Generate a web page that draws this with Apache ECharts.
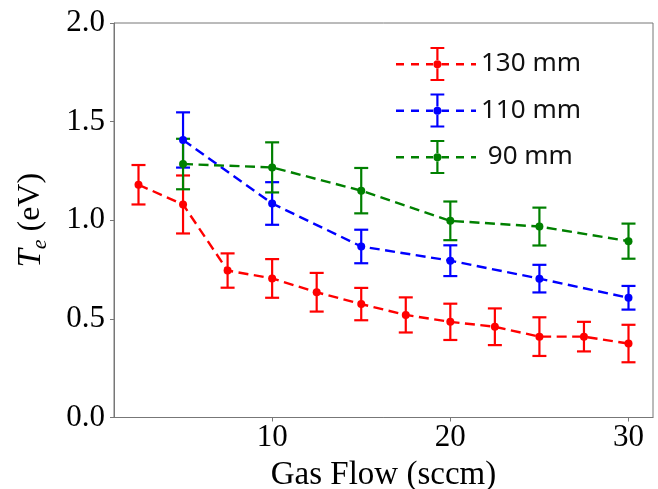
<!DOCTYPE html>
<html>
<head>
<meta charset="utf-8">
<script src="https://cdn.jsdelivr.net/npm/echarts@6/dist/echarts.min.js"></script>
<style>
  html, body { margin: 0; padding: 0; background: #fff; }
  #chart { width: 658px; height: 489px; }
</style>
</head>
<body>
<div id="chart"></div>
<script>
// Gas flow settings (sccm)
const flow130 = [2.5, 5, 7.5, 10, 12.5, 15, 17.5, 20, 22.5, 25, 27.5, 30];
const flow110 = [5, 10, 15, 20, 25, 30];
const flow90 = [5, 10, 15, 20, 25, 30];

// Electron temperature (eV) and its uncertainty at each probe distance
const te130 = [1.18, 1.08, 0.745, 0.705, 0.635, 0.575, 0.52, 0.485, 0.46, 0.41, 0.41, 0.375];
const err130 = [0.10, 0.147, 0.087, 0.098, 0.098, 0.082, 0.089, 0.092, 0.093, 0.098, 0.075, 0.095];
const te110 = [1.407, 1.085, 0.867, 0.795, 0.704, 0.607];
const err110 = [0.14, 0.108, 0.085, 0.078, 0.07, 0.06];
const te90 = [1.285, 1.268, 1.15, 0.997, 0.968, 0.894];
const err90 = [0.128, 0.127, 0.115, 0.098, 0.096, 0.089];

// Axis ticks
const xTicks = [10, 20, 30];
const yTicks = [0, 0.5, 1.0, 1.5, 2.0];

const seriesNames = ['130 mm', '110 mm', ' 90 mm'];
const seriesColors = ['#ff0000', '#0000ff', '#008000'];

// Legend handle: dashed line, error bar with caps, and a dot
const legendIcon = 'path://' +
  'M0 16H8V18.4H0Z M15 16H23V18.4H15Z M30 16H37V18.4H30Z ' +
  'M45.6 16H53V18.4H45.6Z M60 16H68V18.4H60Z M75 16H80V18.4H75Z ' +
  'M40.3 2H42.5V13H40.3Z M40.3 21H42.5V32H40.3Z ' +
  'M34.5 0H48.3V2H34.5Z M34.5 32H48.3V34H34.5Z ' +
  'M37.4 17.2A4 4 0 1 0 45.4 17.2A4 4 0 1 0 37.4 17.2Z';

const sets = [
  { x: flow130, y: te130, e: err130 },
  { x: flow110, y: te110, e: err110 },
  { x: flow90, y: te90, e: err90 }
];

const serifFont = '"Liberation Serif", "Times New Roman", serif';

function errorBarSeries(set, idx) {
  const data = set.x.map((x, i) => [x, set.y[i] - set.e[i], set.y[i] + set.e[i]]);
  return {
    type: 'custom',
    name: seriesNames[idx],
    z: 2 + idx,
    data: data,
    itemStyle: { color: seriesColors[idx] },
    encode: { x: 0, y: [1, 2] },
    renderItem: function (params, api) {
      const x = api.value(0);
      const lo = api.coord([x, api.value(1)]);
      const hi = api.coord([x, api.value(2)]);
      const half = 7;
      const style = { stroke: seriesColors[idx], lineWidth: 2.2 };
      return {
        type: 'group',
        children: [
          { type: 'line', shape: { x1: lo[0], y1: lo[1], x2: hi[0], y2: hi[1] }, style: style },
          { type: 'line', shape: { x1: lo[0] - half, y1: lo[1], x2: lo[0] + half, y2: lo[1] }, style: style },
          { type: 'line', shape: { x1: hi[0] - half, y1: hi[1], x2: hi[0] + half, y2: hi[1] }, style: style }
        ]
      };
    }
  };
}

function lineSeries(set, idx) {
  return {
    type: 'line',
    name: seriesNames[idx],
    z: 5 + idx,
    data: set.x.map((x, i) => [x, set.y[i]]),
    symbol: 'circle',
    symbolSize: 8,
    showSymbol: true,
    itemStyle: { color: seriesColors[idx] },
    lineStyle: { color: seriesColors[idx], width: 2.4, type: [10, 5.5] }
  };
}

const series = [];
sets.forEach((s, i) => { series.push(errorBarSeries(s, i)); });
sets.forEach((s, i) => { series.push(lineSeries(s, i)); });

const chart = echarts.init(document.getElementById('chart'), null, { renderer: 'canvas' });
chart.setOption({
  animation: false,
  backgroundColor: '#ffffff',
  grid: {
    left: 114, right: 5, top: 23, bottom: 71.5,
    outerBoundsMode: 'none',
    containLabel: false,
    show: true, borderColor: '#777', borderWidth: 1, backgroundColor: 'transparent'
  },
  legend: {
    orient: 'vertical',
    left: 396,
    top: 47,
    padding: 0,
    itemWidth: 80,
    itemHeight: 34,
    itemGap: 12.5,
    selectedMode: false,
    data: seriesNames.map((n, i) => ({ name: n, icon: legendIcon, itemStyle: { color: seriesColors[i] } })),
    textStyle: { fontFamily: '"Noto Sans", "Open Sans", sans-serif', fontSize: 26, color: '#111' }
  },
  xAxis: {
    type: 'value',
    min: 1.125,
    max: 31.375,
    name: 'Gas Flow (sccm)',
    nameLocation: 'middle',
    nameGap: 32,
    nameTextStyle: { fontFamily: serifFont, fontSize: 33, color: '#000' },
    axisLine: { show: true, lineStyle: { color: '#777', width: 1 } },
    axisTick: { show: true, length: 4, lineStyle: { color: '#777' }, customValues: xTicks },
    axisLabel: {
      customValues: xTicks,
      margin: 5,
      fontFamily: serifFont, fontSize: 31, color: '#000'
    },
    splitLine: { show: false }
  },
  yAxis: {
    type: 'value',
    min: 0,
    max: 2,
    interval: 0.5,
    name: '{t|T}{e|e}{n| (eV)}',
    nameLocation: 'middle',
    nameGap: 63,
    nameRotate: 90,
    nameTextStyle: {
      color: '#000',
      rich: {
        t: { fontFamily: serifFont, fontStyle: 'italic', fontSize: 33, lineHeight: 36, verticalAlign: 'top' },
        e: { fontFamily: serifFont, fontStyle: 'italic', fontSize: 22, lineHeight: 18, verticalAlign: 'bottom' },
        n: { fontFamily: serifFont, fontSize: 32, lineHeight: 36, verticalAlign: 'top' }
      }
    },
    axisLine: { show: true, lineStyle: { color: '#777', width: 1 } },
    axisTick: { show: true, length: 4, lineStyle: { color: '#777' }, customValues: yTicks },
    axisLabel: {
      customValues: yTicks,
      margin: 9,
      fontFamily: serifFont, fontSize: 31, color: '#000',
      formatter: v => v.toFixed(1)
    },
    splitLine: { show: false }
  },
  series: series
});
</script>
</body>
</html>
